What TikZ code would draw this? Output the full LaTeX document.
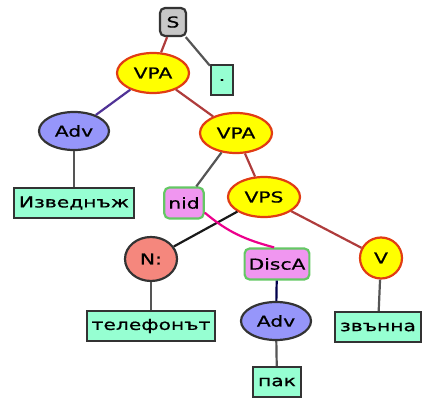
\documentclass[tikz,border=0pt]{standalone}
\usepackage{fontspec}
\setmainfont{DejaVu Sans}[FakeStretch=1.35,FakeBold=0.8]
\usepackage{xcolor}
\usepackage{tikz}
\usetikzlibrary{shapes.geometric}
\definecolor{redline}{RGB}{175,60,60}
\definecolor{grayline}{RGB}{85,85,85}
\definecolor{advline}{RGB}{80,50,150}
\definecolor{yelfill}{RGB}{255,255,0}
\definecolor{yeldraw}{RGB}{225,60,20}
\definecolor{advfill}{RGB}{150,150,250}
\definecolor{wordfill}{RGB}{150,255,210}
\definecolor{discfill}{RGB}{240,150,240}
\definecolor{discdraw}{RGB}{100,200,100}
\definecolor{nfill}{RGB}{245,135,125}

\begin{document}
\begin{tikzpicture}[x=1pt,y=-1pt,
    every node/.style={font=\fontsize{15}{18}\selectfont, line width=2.2pt},
    phrase/.style={ellipse, draw=yeldraw, fill=yelfill, minimum width=72pt, minimum height=40pt, inner sep=0pt},
    advnode/.style={ellipse, draw=black!80, fill=advfill, minimum width=70pt, minimum height=38pt, inner sep=0pt},
    word/.style={rectangle, draw=black!80, fill=wordfill, minimum height=30pt, inner xsep=5pt},
    disc/.style={rectangle, rounded corners=5pt, draw=discdraw, fill=discfill, minimum height=31pt, inner xsep=4pt},
    edge/.style={line width=2.2pt, draw=grayline}]
    \useasboundingbox (0,0) rectangle (429,399);
    \node [rectangle, rounded corners=5pt, draw=black!80, fill=black!22, minimum width=26pt, minimum height=28pt, inner sep=0pt] (s) at (173,22) {S};
    \node [word, minimum width=22pt, minimum height=30pt, inner sep=0pt] (dot) at (222,80) {.};
    \node [phrase] (vpa) at (153,73) {VPA};
    \node [advnode] (adv) at (74,131) {Adv};
    \node [word] (izv) at (74,203) {Изведнъж};
    \node [phrase] (vpb) at (236,133) {VPA};
    \node [disc] (nid) at (184,203) {nid};
    \node [phrase] (vps) at (264,197) {VPS};
    \node [ellipse, draw=black!80, fill=nfill, minimum width=52pt, minimum height=44pt, inner sep=0pt] (n) at (151,259) {N:};
    \node [disc] (disca) at (277,264) {DiscA};
    \node [ellipse, draw=yeldraw, fill=yelfill, minimum width=42pt, minimum height=41pt, inner sep=0pt] (v) at (381,258) {V};
    \node [word] (tel) at (151,326) {телефонът};
    \node [advnode] (advb) at (276,321) {Adv};
    \node [word] (zv) at (378,327) {звънна};
    \node [word] (pak) at (277,382) {пак};

    \draw [edge, redline] (s) -- (vpa);
    \draw [edge] (s) -- (dot);
    \draw [edge, advline] (vpa) -- (adv);
    \draw [edge, redline] (vpa) -- (vpb);
    \draw [edge] (adv) -- (izv);
    \draw [edge] (vpb) -- (nid);
    \draw [edge, redline] (vpb) -- (vps);
    \draw [edge, black!90] (vps) -- (n);
    \draw [edge, redline] (vps) -- (v);
    \draw [edge, magenta] (nid.-25) to[out=-40,in=165] (disca.100);
    \draw [edge] (n) -- (tel);
    \draw [edge, black!70!blue] (disca) -- (advb);
    \draw [edge] (advb) -- (pak);
    \draw [edge] (v) -- (zv);
\end{tikzpicture}
\end{document}
